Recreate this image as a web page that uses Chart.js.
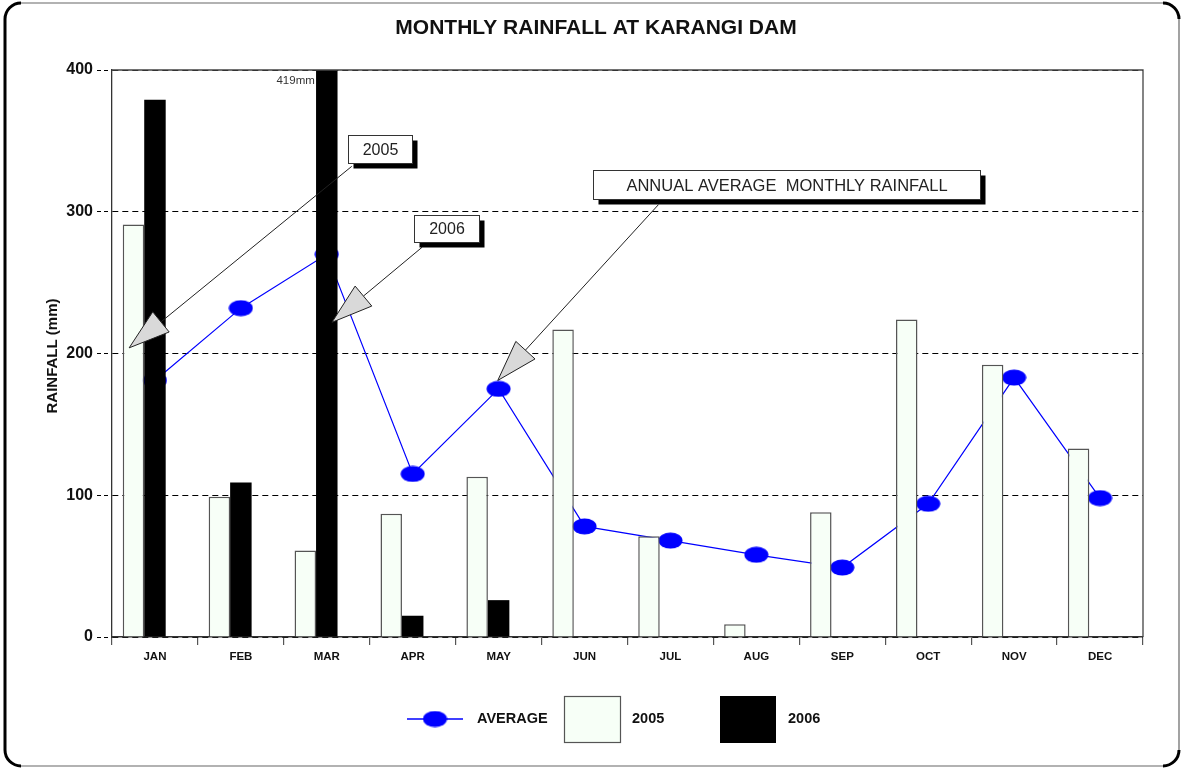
<!DOCTYPE html>
<html>
<head>
<meta charset="utf-8">
<script src="https://cdn.jsdelivr.net/npm/chart.js@4.4.1/dist/chart.umd.min.js"></script>
<style>
  html, body { margin: 0; padding: 0; background: #fff; }
  #wrap { width: 1181px; height: 769px; }
</style>
</head>
<body>
<div id="wrap"><canvas id="rainChart" width="1181" height="769"></canvas></div>
<script>
// data
const months = ["JAN", "FEB", "MAR", "APR", "MAY", "JUN", "JUL", "AUG", "SEP", "OCT", "NOV", "DEC"];
const rain2005 = [291, 99, 61, 87, 113, 217, 71, 9, 88, 224, 192, 133];
const rain2006 = [379, 109, 419, 15, 26, null, null, null, null, null, null, null];
const average = [181, 232, 270, 115, 175, 78, 68, 58, 49, 94, 183, 98];
const yTicks = [0, 100, 200, 300, 400];

// callouts: box centre, line start and arrow tip in (month index, mm)
const callouts = [
  { text: "2005", box: [2.62, 344], w: 64, h: 28, from: [2.29, 332], tip: [-0.30, 204] },
  { text: "2006", box: [3.39, 288], w: 65, h: 27, from: [3.11, 275], tip: [2.06, 222] },
  { text: "ANNUAL AVERAGE  MONTHLY RAINFALL", box: [7.35, 319], w: 387, h: 29, from: [5.86, 305], tip: [3.99, 181] }
];

const FONT = "Arial, 'Liberation Sans', sans-serif";
const BLUE = "#0000ff";

// blue ellipse used as the point marker
function ellipse(w, h) {
  const c = document.createElement("canvas");
  c.width = w; c.height = h;
  const g = c.getContext("2d");
  g.fillStyle = BLUE;
  g.beginPath();
  g.ellipse(w / 2, h / 2, w / 2 - 0.5, h / 2 - 0.5, 0, 0, Math.PI * 2);
  g.fill();
  return c;
}
const dot = ellipse(25, 17);

function arrow(ctx, x0, y0, x1, y1) {
  const ang = Math.atan2(y1 - y0, x1 - x0);
  const len = 41, half = 13;
  const bx = x1 - Math.cos(ang) * len, by = y1 - Math.sin(ang) * len;
  ctx.strokeStyle = "#222";
  ctx.lineWidth = 1;
  ctx.beginPath();
  ctx.moveTo(x0, y0);
  ctx.lineTo(bx, by);
  ctx.stroke();
  ctx.beginPath();
  ctx.moveTo(x1, y1);
  ctx.lineTo(bx + Math.sin(ang) * half, by - Math.cos(ang) * half);
  ctx.lineTo(bx - Math.sin(ang) * half, by + Math.cos(ang) * half);
  ctx.closePath();
  ctx.fillStyle = "#d9d9d9";
  ctx.fill();
  ctx.stroke();
}

const decor = {
  id: "decor",
  beforeDraw(chart) {
    const ctx = chart.ctx;
    ctx.save();
    ctx.fillStyle = "#fff";
    ctx.fillRect(0, 0, chart.width, chart.height);
    ctx.restore();
  },
  afterDraw(chart) {
    const ctx = chart.ctx;
    const a = chart.chartArea;
    const xs = chart.scales.x, ys = chart.scales.y;
    ctx.save();

    // plot frame top / right
    ctx.strokeStyle = "#444";
    ctx.lineWidth = 1.3;
    ctx.beginPath();
    ctx.moveTo(a.left, a.top);
    ctx.lineTo(a.right, a.top);
    ctx.lineTo(a.right, a.bottom);
    ctx.stroke();

    // title
    ctx.fillStyle = "#111";
    ctx.textAlign = "center";
    ctx.textBaseline = "middle";
    ctx.font = "bold 21px " + FONT;
    ctx.fillText("MONTHLY RAINFALL AT KARANGI DAM", 596, 28);

    // y title
    ctx.save();
    ctx.translate(53, 356);
    ctx.rotate(-Math.PI / 2);
    ctx.font = "bold 15px " + FONT;
    ctx.fillText("RAINFALL (mm)", 0, 0);
    ctx.restore();

    // clipped March value
    ctx.font = "11.5px " + FONT;
    ctx.fillStyle = "#333";
    ctx.textAlign = "right";
    ctx.fillText("419mm", xs.getPixelForValue(2) - 12, a.top + 11);

    // callouts
    callouts.forEach(c => {
      const cx = xs.getPixelForValue(c.box[0]), cy = ys.getPixelForValue(c.box[1]);
      const l = Math.round(cx - c.w / 2) + 0.5, t = Math.round(cy - c.h / 2) + 0.5;
      arrow(ctx, xs.getPixelForValue(c.from[0]), ys.getPixelForValue(c.from[1]),
        xs.getPixelForValue(c.tip[0]), ys.getPixelForValue(c.tip[1]));
      ctx.fillStyle = "#000";
      ctx.fillRect(l + 5, t + 5, c.w, c.h);
      ctx.fillStyle = "#fff";
      ctx.fillRect(l, t, c.w, c.h);
      ctx.strokeStyle = "#333";
      ctx.lineWidth = 1;
      ctx.strokeRect(l, t, c.w, c.h);
      ctx.fillStyle = "#222";
      ctx.textAlign = "center";
      ctx.font = (c.text.length > 4 ? "16.5px " : "16px ") + FONT;
      ctx.fillText(c.text, l + c.w / 2, t + c.h / 2 + 1);
    });

    // legend
    const ly = 719;
    ctx.strokeStyle = BLUE;
    ctx.lineWidth = 1.5;
    ctx.beginPath();
    ctx.moveTo(407, ly);
    ctx.lineTo(463, ly);
    ctx.stroke();
    ctx.drawImage(dot, 435 - dot.width / 2, ly - dot.height / 2);
    ctx.font = "bold 14.5px " + FONT;
    ctx.fillStyle = "#111";
    ctx.textAlign = "left";
    ctx.fillText("AVERAGE", 477, ly);
    ctx.fillText("2005", 632, ly);
    ctx.fillText("2006", 788, ly);
    ctx.fillStyle = "#f7fff7";
    ctx.fillRect(564.5, 696.5, 56, 46);
    ctx.strokeStyle = "#555";
    ctx.lineWidth = 1.2;
    ctx.strokeRect(564.5, 696.5, 56, 46);
    ctx.fillStyle = "#000";
    ctx.fillRect(720, 696, 56, 47);

    // outer rounded frame
    const r = 16, L = 5, T = 3, R = 1179, B = 766;
    ctx.strokeStyle = "#666";
    ctx.lineWidth = 1.2;
    ctx.beginPath();
    ctx.roundRect(L, T, R - L, B - T, r);
    ctx.stroke();
    ctx.strokeStyle = "#000";
    ctx.lineWidth = 3;
    ctx.beginPath();
    ctx.moveTo(L + r, T);
    ctx.arcTo(L, T, L, T + r, r);
    ctx.lineTo(L, B - r);
    ctx.arcTo(L, B, L + r, B, r);
    ctx.stroke();
    ctx.beginPath();
    ctx.moveTo(R - r, T);
    ctx.arcTo(R, T, R, T + r, r);
    ctx.stroke();
    ctx.beginPath();
    ctx.moveTo(R, B - r);
    ctx.arcTo(R, B, R - r, B, r);
    ctx.stroke();

    ctx.restore();
  }
};

const barOpts = { barPercentage: 1, categoryPercentage: 0.75, order: 1 };

const ctx = document.getElementById("rainChart");
const rainChart = new Chart(ctx, {
  type: "bar",
  data: {
    labels: months,
    datasets: [
      {
        type: "line",
        label: "AVERAGE",
        data: average,
        borderColor: BLUE,
        borderWidth: 1.2,
        pointStyle: dot,
        pointRadius: 10,
        order: 3
      },
      {
        label: "2005",
        data: rain2005,
        backgroundColor: "#f7fff7",
        borderColor: "#555",
        borderWidth: 1.5,
        ...barOpts
      },
      {
        label: "2006",
        data: rain2006,
        backgroundColor: "#000",
        borderWidth: 0,
        ...barOpts
      },
      {
        // empty third slot, as in the original sheet, keeps the bar pair left of centre
        label: "",
        data: [],
        ...barOpts
      }
    ]
  },
  options: {
    responsive: false,
    animation: false,
    devicePixelRatio: 1,
    layout: { padding: { left: 0, top: 70, right: 38, bottom: 92 } },
    plugins: {
      legend: { display: false },
      title: { display: false },
      tooltip: { enabled: false }
    },
    scales: {
      x: {
        afterFit(scale) { scale.height = 40; },
        grid: {
          offset: true,
          drawOnChartArea: false,
          tickLength: 8,
          color: "#555",
          lineWidth: 1.2
        },
        border: { color: "#333", width: 1.5 },
        ticks: {
          color: "#111",
          padding: 5,
          font: { family: FONT, size: 11.5, weight: "bold" }
        }
      },
      y: {
        min: yTicks[0],
        max: yTicks[yTicks.length - 1],
        afterFit(scale) { scale.width = 112; },
        afterBuildTicks(scale) { scale.ticks = yTicks.map(v => ({ value: v })); },
        grid: {
          color: "#000",
          lineWidth: 1,
          tickLength: 15,
          tickColor: "#000",
          tickBorderDash: [4, 3]
        },
        border: { color: "#333", width: 1.3, dash: [6, 4] },
        ticks: {
          color: "#111",
          padding: 4,
          font: { family: FONT, size: 16, weight: "bold" }
        }
      }
    }
  },
  plugins: [decor]
});
</script>
</body>
</html>
